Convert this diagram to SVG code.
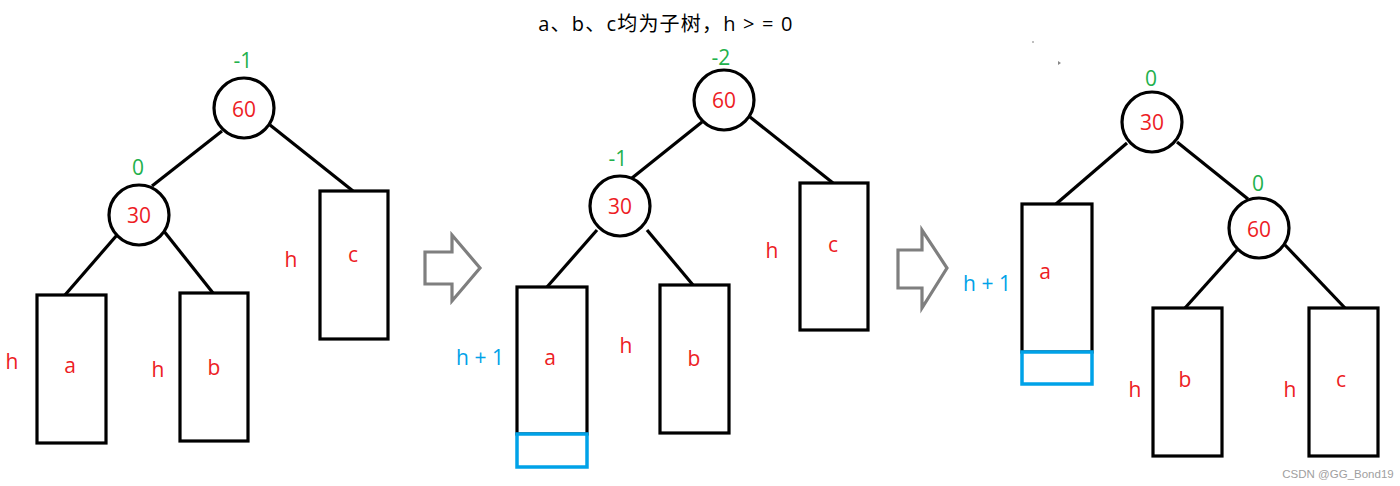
<svg xmlns="http://www.w3.org/2000/svg" width="1400" height="486" viewBox="0 0 1400 486">
<style>
  text { font-family: "Open Sans", "Noto Sans CJK SC", sans-serif; text-anchor: middle; }
  .lbl { font-size: 21px; fill: #ed1c24; }
  .bf { font-size: 21px; fill: #22b14c; }
  .blue { font-size: 21px; fill: #00a2e8; }
  .node { fill: #ffffff; stroke: #000000; stroke-width: 3.2; }
  .edge { stroke: #000000; stroke-width: 3.2; fill: none; }
  .add { fill: #ffffff; stroke: #00a2e8; stroke-width: 3.5; }
  .arrow { fill: #ffffff; stroke: #7f7f7f; stroke-width: 3.2; stroke-linejoin: miter; }
</style>
<rect width="1400" height="486" fill="#ffffff"/>
<text x="666" y="31" style="font-size:20px;fill:#000;letter-spacing:1.2px" xml:space="preserve">a、b、c均为子树，h &gt; = 0</text>

<g id="connectors">
  <line class="edge" x1="222" y1="131" x2="152" y2="186"/>
  <line class="edge" x1="270" y1="125" x2="353" y2="191"/>
  <line class="edge" x1="117" y1="235" x2="65" y2="295"/>
  <line class="edge" x1="163" y1="230" x2="213" y2="293"/>
  <line class="edge" x1="702" y1="122" x2="632" y2="178"/>
  <line class="edge" x1="750" y1="117" x2="833" y2="183"/>
  <line class="edge" x1="597" y1="230" x2="547" y2="287"/>
  <line class="edge" x1="647" y1="230" x2="693" y2="285"/>
  <line class="edge" x1="1127" y1="143" x2="1056" y2="204"/>
  <line class="edge" x1="1177" y1="142" x2="1248" y2="199"/>
  <line class="edge" x1="1237" y1="250" x2="1185" y2="308"/>
  <line class="edge" x1="1285" y1="245" x2="1345" y2="308"/>
</g>

<!-- Panel 1 -->
<g id="p1-n60">
  <circle class="node" cx="244" cy="108" r="30"/>
  <text class="lbl" x="244" y="117">60</text>
  <text class="bf" x="243" y="68">-1</text>
</g>
<g id="p1-n30">
  <circle class="node" cx="139" cy="215" r="30"/>
  <text class="lbl" x="139" y="223">30</text>
  <text class="bf" x="138" y="175">0</text>
</g>
<g id="p1-c">
  <rect class="node" x="320" y="191" width="68" height="148"/>
  <text class="lbl" x="353" y="262">c</text>
  <text class="lbl" x="291" y="267">h</text>
</g>
<g id="p1-a">
  <rect class="node" x="37" y="295" width="69" height="148"/>
  <text class="lbl" x="70" y="373">a</text>
  <text class="lbl" x="12" y="369">h</text>
</g>
<g id="p1-b">
  <rect class="node" x="180" y="293" width="68" height="148"/>
  <text class="lbl" x="214" y="375">b</text>
  <text class="lbl" x="158" y="377">h</text>
</g>

<g id="arrow1">
  <polygon class="arrow" points="425,252 452,252 452,235 480,268 452,301 452,284 425,284"/>
</g>

<!-- Panel 2 -->
<g id="p2-n60">
  <circle class="node" cx="724" cy="100" r="30"/>
  <text class="lbl" x="724" y="108">60</text>
  <text class="bf" x="721" y="65">-2</text>
</g>
<g id="p2-n30">
  <circle class="node" cx="620" cy="206" r="30"/>
  <text class="lbl" x="620" y="214">30</text>
  <text class="bf" x="618" y="166">-1</text>
</g>
<g id="p2-c">
  <rect class="node" x="800" y="183" width="68" height="147"/>
  <text class="lbl" x="833" y="252">c</text>
  <text class="lbl" x="772" y="258">h</text>
</g>
<g id="p2-a">
  <rect class="node" x="517" y="287" width="70" height="147"/>
  <rect class="add" x="517" y="434" width="70" height="33"/>
  <text class="lbl" x="550" y="365">a</text>
  <text class="blue" x="480" y="365" xml:space="preserve">h + 1</text>
</g>
<g id="p2-b">
  <rect class="node" x="660" y="285" width="69" height="148"/>
  <text class="lbl" x="694" y="366">b</text>
  <text class="lbl" x="626" y="353">h</text>
</g>

<g id="arrow2">
  <polygon class="arrow" points="898,250 922,250 922,230 947,268 922,308 922,288 898,288"/>
</g>
<circle cx="1033" cy="42" r="1" fill="#aaaaaa"/>
<polygon points="1058,61 1061,63 1058,65" fill="#888888"/>

<!-- Panel 3 -->
<g id="p3-n30">
  <circle class="node" cx="1152" cy="122" r="30"/>
  <text class="lbl" x="1152" y="130">30</text>
  <text class="bf" x="1151" y="86">0</text>
</g>
<g id="p3-n60">
  <circle class="node" cx="1259" cy="228" r="30"/>
  <text class="lbl" x="1259" y="237">60</text>
  <text class="bf" x="1258" y="191">0</text>
</g>
<g id="p3-a">
  <rect class="node" x="1022" y="204" width="70" height="148"/>
  <rect class="add" x="1022" y="352" width="70" height="32"/>
  <text class="lbl" x="1045" y="279">a</text>
  <text class="blue" x="987" y="291" xml:space="preserve">h + 1</text>
</g>
<g id="p3-b">
  <rect class="node" x="1153" y="308" width="69" height="148"/>
  <text class="lbl" x="1185" y="387">b</text>
  <text class="lbl" x="1135" y="397">h</text>
</g>
<g id="p3-c">
  <rect class="node" x="1309" y="308" width="69" height="148"/>
  <text class="lbl" x="1341" y="387">c</text>
  <text class="lbl" x="1290" y="397">h</text>
</g>

<text x="1338" y="478" style="font-size:11.5px;fill:#a0a0a0;font-family:'Liberation Sans',sans-serif">CSDN @GG_Bond19</text>
</svg>
